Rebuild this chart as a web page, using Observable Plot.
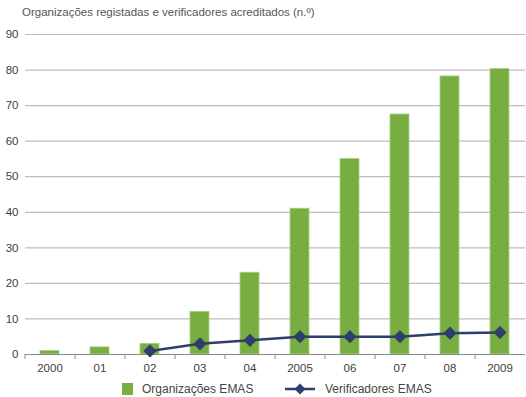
<!DOCTYPE html>
<html>
<head>
<meta charset="utf-8">
<script src="https://cdn.jsdelivr.net/npm/d3@7"></script>
<script src="https://cdn.jsdelivr.net/npm/@observablehq/plot@0.6"></script>
<style>
  html, body { margin: 0; padding: 0; background: #fff; }
  body { width: 526px; height: 397px; overflow: hidden; font-family: "Liberation Sans", Arial, sans-serif; }
  #title { height: 26px; line-height: 24px; padding-left: 22px; font-size: 11.5px; color: #555; }
  #legend { position: relative; height: 21px; font-size: 12px; color: #444; }
  #legend .item { position: absolute; top: 6px; display: flex; align-items: center; }
</style>
</head>
<body>
<div id="title">Organizações registadas e verificadores acreditados (n.º)</div>
<div id="chart"></div>
<div id="legend">
  <div class="item" style="left:122px"><span style="display:inline-block;width:11px;height:12px;background:#78ad41;margin-right:9px"></span>Organizações EMAS</div>
  <div class="item" style="left:285px"><svg width="40" height="14"><line x1="0" y1="7" x2="30" y2="7" stroke="#2f3e6b" stroke-width="2.5"/><path d="M15,1.5L20.5,7L15,12.5L9.5,7Z" fill="#2f3e6b"/></svg>Verificadores EMAS</div>
</div>
<script>
const categories = ["2000", "01", "02", "03", "04", "2005", "06", "07", "08", "2009"];
const organizacoes = [1, 2, 3, 12, 23, 41, 55, 67.5, 78.2, 80.3];
const verificadores = [null, null, 1, 3, 4, 5, 5, 5, 6, 6.2];
const yTicks = [0, 10, 20, 30, 40, 50, 60, 70, 80, 90];

const barData = categories.map((c, i) => ({cat: c, value: organizacoes[i]}));
const lineData = categories.map((c, i) => ({cat: c, value: verificadores[i]})).filter(d => d.value != null);

const W = 526, H = 350, mL = 25, mR = 1, mT = 8, mB = 22;
const bandW = (W - mL - mR) / categories.length;

const chart = Plot.plot({
  width: W,
  height: H,
  marginLeft: mL,
  marginRight: mR,
  marginTop: mT,
  marginBottom: mB,
  style: {fontFamily: "Liberation Sans, Arial, sans-serif", fontSize: "11px", color: "#444", background: "#fff"},
  x: {type: "band", domain: categories, paddingInner: 0.62, paddingOuter: 0.31, label: null},
  y: {domain: [0, 90], label: null},
  marks: [
    Plot.ruleY(yTicks.filter(t => t > 0), {stroke: "#bdbdbd", strokeWidth: 1.2}),
    Plot.axisY({ticks: yTicks, tickSize: 0, tickPadding: 7, tickFormat: d => d, fill: "#404040", fontSize: 11.5}),
    Plot.axisX({tickSize: 0, tickPadding: 9, fill: "#404040", fontSize: 11.5}),
    Plot.barY(barData, {x: "cat", y: "value", fill: "#78ad41", stroke: "#a9d17f", strokeWidth: 0.8}),
    Plot.ruleY([0], {stroke: "#8a8a8a", strokeWidth: 1}),
    Plot.ruleX(categories, {x: d => d, y1: 0, y2: 0, insetBottom: -5, dx: -bandW / 2, stroke: "#8a8a8a", strokeWidth: 1}),
    Plot.line(lineData, {x: "cat", y: "value", stroke: "#2f3e6b", strokeWidth: 2.5}),
    Plot.dot(lineData, {x: "cat", y: "value", symbol: "diamond2", r: 5, fill: "#2f3e6b", stroke: "#2f3e6b"})
  ]
});
document.getElementById("chart").appendChild(chart);
</script>
</body>
</html>
